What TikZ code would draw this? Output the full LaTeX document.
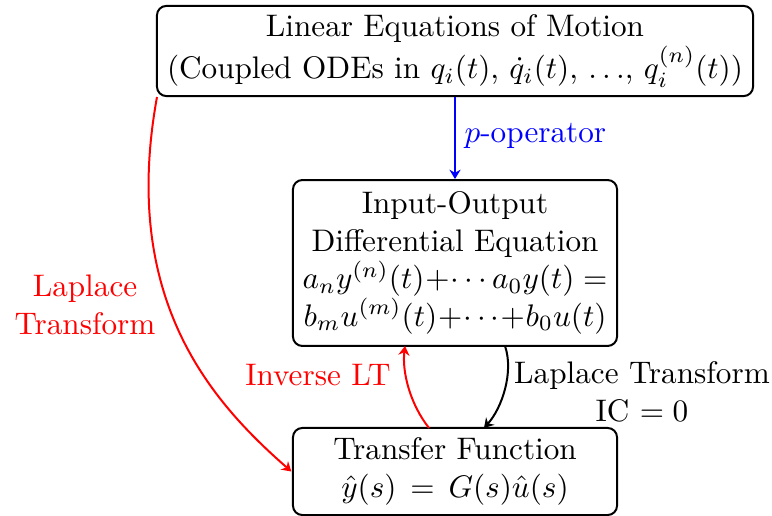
\documentclass[tikz,border=0pt]{standalone}
\usetikzlibrary{arrows.meta}
\begin{document}
\begin{tikzpicture}[x=0.3206pt,y=-0.3206pt,
  box/.style={draw,line width=0.64pt,rounded corners=3pt,align=center,inner sep=0pt},
  conn/.style={line width=0.64pt,-{Stealth[length=3pt,width=3.6pt,inset=1pt]}},
  lbl/.style={align=center,inner sep=0pt}]
\useasboundingbox (0,0) rectangle (772,516);
\node[box,minimum width=191.1pt,minimum height=28.9pt] (eom) at (455,51)
  {Linear Equations of Motion\\(Coupled ODEs in $q_i(t)$, $\dot{q}_i(t)$, $\ldots$, $q_i^{(n)}(t)$)};
\node[box,minimum width=103.9pt,minimum height=53.2pt] (ioe) at (455,263)
  {Input-Output\\Differential Equation\\$\medmuskip=0.5mu a_ny^{(n)}(t)+\cdots a_0y(t)=$\\$\medmuskip=0.5mu b_mu^{(m)}(t)+\cdots+b_0u(t)$};
\node[box,minimum width=103.9pt,minimum height=27.9pt] (tf) at (455,471.5)
  {Transfer Function\\$\hat{y}(s)\,=\,G(s)\hat{u}(s)$};
\draw[conn,blue] (eom.south) -- (ioe.north);
\node[lbl,blue,anchor=west] (pop) at (464,136) {$p$-operator};
\coordinate (r0) at (157,97);
\coordinate (r3) at ([xshift=-0.2pt]tf.west);
\draw[conn,red] (r0) .. controls (120,300) and (212,402) .. (r3);
\node[lbl,red] (lt1) at (85,305) {Laplace\\Transform};
\coordinate (b0) at (505,346);
\coordinate (b3) at (484,428);
\draw[conn,black] (b0) .. controls (514,372) and (502,408) .. (b3);
\node[lbl] (lt2) at (642,392) {Laplace Transform\\IC $=0$};
\coordinate (c0) at (429,428);
\coordinate (c3) at (405,346);
\draw[conn,red] (c0) .. controls (410,404) and (402,372) .. (c3);
\node[lbl,red] (ilt) at (318,375) {Inverse LT};
\end{tikzpicture}
\end{document}
